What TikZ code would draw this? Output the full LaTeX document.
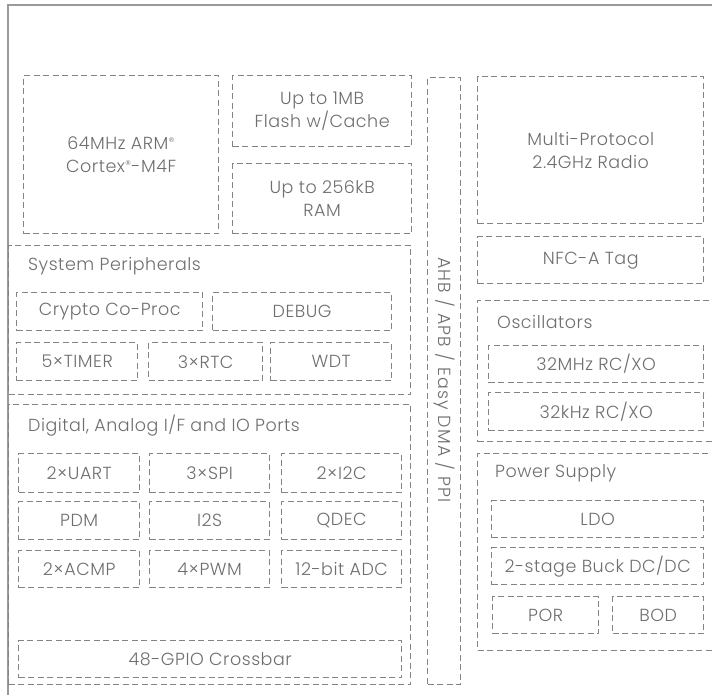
\documentclass[tikz,border=0pt]{standalone}
\usepackage{fontspec}
\setmainfont{Poppins Light}[LetterSpace=3]
\newfontfamily\regfont{DejaVu Sans}
\usepackage{xcolor}
\definecolor{framegray}{HTML}{9A9A9A}
\definecolor{dashgray}{HTML}{848484}
\definecolor{textgray}{HTML}{6E6E6E}
\newcommand{\regmark}{\raisebox{0.7ex}{\regfont\fontsize{6.5}{6.5}\selectfont ®}}

\begin{document}
\begin{tikzpicture}[x=1pt, y=-1pt,
  blk/.style={draw=dashgray, line width=1.35pt, dash pattern=on 6pt off 3.5pt,
    anchor=north west, inner sep=0pt, align=center, text=textgray,
    font=\fontsize{17.5}{23}\selectfont},
  grp/.style={blk},
  ttl/.style={anchor=west, inner sep=0pt, text=textgray, font=\fontsize{17.5}{23}\selectfont}]
\useasboundingbox (0,0) rectangle (712,695);
% outer frame
\draw[framegray, line width=1.5pt] (712,5) -- (8,5) -- (8,695);

% core and memory
\node[blk, minimum width=195pt, minimum height=158pt] (cpu) at (23,75) {64MHz ARM\regmark\\Cortex\regmark-M4F};
\node[blk, minimum width=179pt, minimum height=71pt] (flash) at (232,75) {Up to 1MB\\Flash w/Cache};
\node[blk, minimum width=179pt, minimum height=70pt] (ram) at (232,163) {Up to 256kB\\RAM};

% bus
\node[blk, minimum width=33pt, minimum height=607pt] (bus) at (427,77) {};
\node[rotate=-90, text=textgray, font=\fontsize{17.5}{23}\selectfont\addfontfeatures{LetterSpace=7}] (busname) at (bus.center |- 0,380) {AHB / APB / Easy DMA / PPI};

% radio side
\node[blk, minimum width=226pt, minimum height=147pt] (radio) at (477,76) {Multi-Protocol\\2.4GHz Radio};
\node[blk, minimum width=226pt, minimum height=47pt] (nfc) at (477,236) {NFC-A Tag};

\node[grp, minimum width=240pt, minimum height=141pt] (osc) at (477,300) {};
\node[ttl] (oscname) at (497,322) {Oscillators};
\node[blk, minimum width=215pt, minimum height=37pt] (mhz) at (488,345) {32MHz RC/XO};
\node[blk, minimum width=215pt, minimum height=38pt] (khz) at (488,392) {32kHz RC/XO};

\node[grp, minimum width=240pt, minimum height=197pt] (pwr) at (477,453) {};
\node[ttl] (pwrname) at (495,473) {Power Supply};
\node[blk, minimum width=212pt, minimum height=37pt] (ldo) at (491,500) {LDO};
\node[blk, minimum width=212pt, minimum height=37pt] (buck) at (491,547) {2-stage Buck DC/DC};
\node[blk, minimum width=106pt, minimum height=37pt] (por) at (492,596) {POR};
\node[blk, minimum width=91pt, minimum height=37pt] (bod) at (612,596) {BOD};

% system peripherals
\node[grp, minimum width=402pt, minimum height=149pt] (sysper) at (8,245) {};
\node[ttl] (sysname) at (28,266) {System Peripherals};
\node[blk, minimum width=186pt, minimum height=38pt] (crypto) at (16,292) {Crypto Co-Proc};
\node[blk, minimum width=179pt, minimum height=38pt] (debug) at (212,292) {DEBUG};
\node[blk, minimum width=121pt, minimum height=38pt] (timer) at (16,342) {5×TIMER};
\node[blk, minimum width=114pt, minimum height=38pt] (rtc) at (148,342) {3×RTC};
\node[blk, minimum width=121pt, minimum height=38pt] (wdt) at (270,342) {WDT};

% digital and analog
\node[grp, minimum width=402pt, minimum height=280pt] (dig) at (8,404) {};
\node[ttl] (digname) at (28,426) {Digital, Analog I/F and IO Ports};
\node[blk, minimum width=121pt, minimum height=39pt] (uart) at (18,453) {2×UART};
\node[blk, minimum width=120pt, minimum height=39pt] (spi) at (149,453) {3×SPI};
\node[blk, minimum width=120pt, minimum height=39pt] (iic) at (281,453) {2×I2C};
\node[blk, minimum width=121pt, minimum height=38pt] (pdm) at (18,501) {PDM};
\node[blk, minimum width=120pt, minimum height=38pt] (iis) at (149,501) {I2S};
\node[blk, minimum width=120pt, minimum height=38pt] (qdec) at (281,501) {QDEC};
\node[blk, minimum width=121pt, minimum height=37pt] (acmp) at (18,550) {2×ACMP};
\node[blk, minimum width=120pt, minimum height=37pt] (pwm) at (149,550) {4×PWM};
\node[blk, minimum width=120pt, minimum height=37pt] (adc) at (281,550) {12-bit ADC};
\node[blk, minimum width=383pt, minimum height=37pt] (gpio) at (18,640) {48-GPIO Crossbar};
\end{tikzpicture}
\end{document}
